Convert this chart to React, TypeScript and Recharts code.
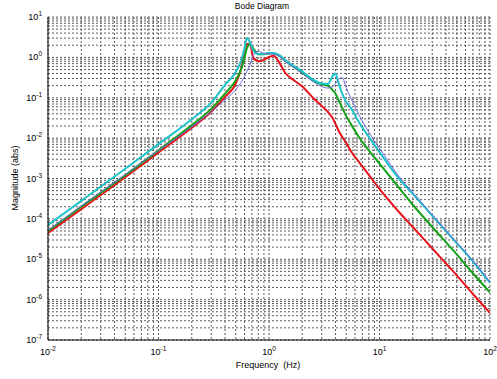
import React from 'react';
import { LineChart, Line, XAxis, YAxis, CartesianGrid } from 'recharts';

const freqHz = [0.01, 0.02, 0.05, 0.1, 0.2, 0.3, 0.4, 0.5, 0.56, 0.6, 0.63, 0.67, 0.72, 0.8, 0.9, 1.0, 1.1, 1.25, 1.4, 1.7, 2.0, 2.5, 3.0, 3.4, 3.8, 4.0, 4.2, 4.6, 5.0, 5.5, 6.5, 8, 10, 15, 20, 30, 50, 70, 100];

const redMag = [4.5e-5, 1.74e-4, 1.07e-3, 4.4e-3, 1.8e-2, 4.5e-2, 0.105, 0.224, 0.537, 1.32, 2.14, 2.19, 1.0, 0.8, 0.87, 1.02, 1.1, 0.708, 0.417, 0.263, 0.19, 0.1, 0.063, 0.045, 0.03, 0.0224, 0.0166, 0.0107, 7.6e-3, 4.8e-3, 2.57e-3, 1.23e-3, 5.5e-4, 1.48e-4, 6.3e-5, 1.86e-5, 4.0e-6, 1.38e-6, 4.7e-7];

const cyanMag = [7.1e-5, 2.8e-4, 1.74e-3, 7.1e-3, 2.95e-2, 7.6e-2, 0.209, 0.437, 0.83, 1.66, 3.02, 2.4, 1.48, 1.2, 1.22, 1.29, 1.29, 1.12, 0.85, 0.6, 0.447, 0.282, 0.224, 0.219, 0.355, 0.398, 0.263, 0.126, 0.079, 0.056, 0.025, 0.0107, 4.5e-3, 1.0e-3, 4.2e-4, 1.2e-4, 2.5e-5, 8.9e-6, 2.6e-6];

const greenMag = [5.0e-5, 2.0e-4, 1.2e-3, 5.0e-3, 2.1e-2, 5.3e-2, 0.126, 0.27, 0.51, 1.0, 1.66, 2.14, 1.66, 1.2, 1.2, 1.26, 1.26, 1.07, 0.83, 0.562, 0.417, 0.269, 0.214, 0.2, 0.151, 0.126, 0.095, 0.056, 0.035, 0.0224, 0.0107, 5.0e-3, 2.34e-3, 5.9e-4, 2.24e-4, 6.3e-5, 1.32e-5, 4.5e-6, 1.5e-6];

const blueMag = [5.2e-5, 2.1e-4, 1.26e-3, 5.0e-3, 1.9e-2, 4.5e-2, 8.9e-2, 0.158, 0.24, 0.331, 0.447, 0.631, 1.12, 1.41, 1.26, 1.23, 1.2, 1.05, 0.794, 0.55, 0.398, 0.251, 0.19, 0.174, 0.19, 0.224, 0.275, 0.316, 0.178, 0.1, 0.038, 0.0141, 5.6e-3, 1.12e-3, 4.5e-4, 1.26e-4, 2.6e-5, 9.3e-6, 2.75e-6];

const xDecades = [0.01, 0.1, 1, 10, 100];
const yDecades = [1e-7, 1e-6, 1e-5, 1e-4, 1e-3, 1e-2, 1e-1, 1, 10];
const minorSteps = [1, 2, 3, 4, 5, 6, 7, 8, 9];

const buildTicks = (decades: number[]) => {
  const out: number[] = [];
  decades.forEach((d, i) => {
    if (i === decades.length - 1) {
      out.push(d);
    } else {
      minorSteps.forEach((m) => out.push(d * m));
    }
  });
  return out;
};

const xTicks = buildTicks(xDecades);
const yTicks = buildTicks(yDecades);

const data = freqHz.map((f, i) => ({
  f,
  red: redMag[i],
  cyan: cyanMag[i],
  green: greenMag[i],
  blue: blueMag[i],
}));

const FONT = '"Liberation Sans", Arial, Helvetica, sans-serif';

const isDecade = (v: number) => {
  const l = Math.log10(v);
  return Math.abs(l - Math.round(l)) < 1e-6;
};

const XTick = (props: any) => {
  const { x, y, payload } = props;
  const v = payload.value;
  if (!isDecade(v)) return <g />;
  const e = Math.round(Math.log10(v));
  return (
    <text x={x} y={y + 15} textAnchor="middle" fontSize={9} fontFamily={FONT} fill="#000">
      <tspan>10</tspan>
      <tspan dy={-4} fontSize={6.5}>{e}</tspan>
    </text>
  );
};

const YTick = (props: any) => {
  const { x, y, payload } = props;
  const v = payload.value;
  if (!isDecade(v)) return <g />;
  const e = Math.round(Math.log10(v));
  return (
    <text x={x - 6} y={y + 3} textAnchor="end" fontSize={9} fontFamily={FONT} fill="#000">
      <tspan>10</tspan>
      <tspan dy={-4} fontSize={6.5}>{e}</tspan>
    </text>
  );
};

export default function App() {
  return (
    <div style={{ position: 'absolute', left: 0, top: 0, width: 497, height: 379, background: '#fff' }}>
      <LineChart
        width={497}
        height={379}
        data={data}
        margin={{ top: 17, right: 7, left: 0, bottom: 0 }}
      >
        <CartesianGrid
          stroke="#4a4a4a"
          strokeDasharray="2 2"
          strokeWidth={0.9}
          horizontalValues={yTicks}
          verticalValues={xTicks}
        />
        <XAxis
          dataKey="f"
          type="number"
          scale="log"
          domain={[0.01, 100]}
          ticks={xTicks}
          interval={0}
          allowDataOverflow
          height={39}
          tickLine={false}
          tickSize={0}
          tickMargin={0}
          axisLine={{ stroke: '#000', strokeWidth: 1 }}
          tick={<XTick />}
        />
        <XAxis
          xAxisId="top"
          orientation="top"
          dataKey="f"
          type="number"
          scale="log"
          domain={[0.01, 100]}
          height={0}
          tick={false}
          tickLine={false}
          axisLine={{ stroke: '#000', strokeWidth: 1 }}
        />
        <YAxis
          type="number"
          scale="log"
          domain={[1e-7, 10]}
          ticks={yTicks}
          interval={0}
          allowDataOverflow
          width={48}
          tickLine={false}
          tickSize={0}
          tickMargin={0}
          axisLine={{ stroke: '#000', strokeWidth: 1 }}
          tick={<YTick />}
        />
        <YAxis
          yAxisId="right"
          orientation="right"
          type="number"
          scale="log"
          domain={[1e-7, 10]}
          width={0}
          tick={false}
          tickLine={false}
          axisLine={{ stroke: '#000', strokeWidth: 1 }}
        />
        <Line type="monotone" dataKey="red" stroke="#e8141c" strokeWidth={2} dot={false} isAnimationActive={false} />
        <Line type="monotone" dataKey="green" stroke="#15a01a" strokeWidth={2} dot={false} isAnimationActive={false} />
        <Line type="monotone" dataKey="cyan" stroke="#1ec3c8" strokeWidth={2} dot={false} isAnimationActive={false} />
        <Line type="monotone" dataKey="blue" stroke="#6a6ae0" strokeWidth={1} dot={false} isAnimationActive={false} />
      </LineChart>
      <div style={{ position: 'absolute', left: 0, width: 524, top: 1, textAlign: 'center', fontFamily: FONT, fontSize: 8.5, color: '#000' }}>
        Bode Diagram
      </div>
      <div style={{ position: 'absolute', left: 0, width: 536, top: 360, textAlign: 'center', fontFamily: FONT, fontSize: 9, color: '#000', whiteSpace: 'pre' }}>
        {'Frequency  (Hz)'}
      </div>
      <div style={{ position: 'absolute', left: 15, top: 178, width: 0, height: 0 }}>
        <div style={{ position: 'absolute', transform: 'translate(-50%, -50%) rotate(-90deg)', fontFamily: FONT, fontSize: 9, color: '#000', whiteSpace: 'nowrap' }}>
          Magnitude (abs)
        </div>
      </div>
    </div>
  );
}
